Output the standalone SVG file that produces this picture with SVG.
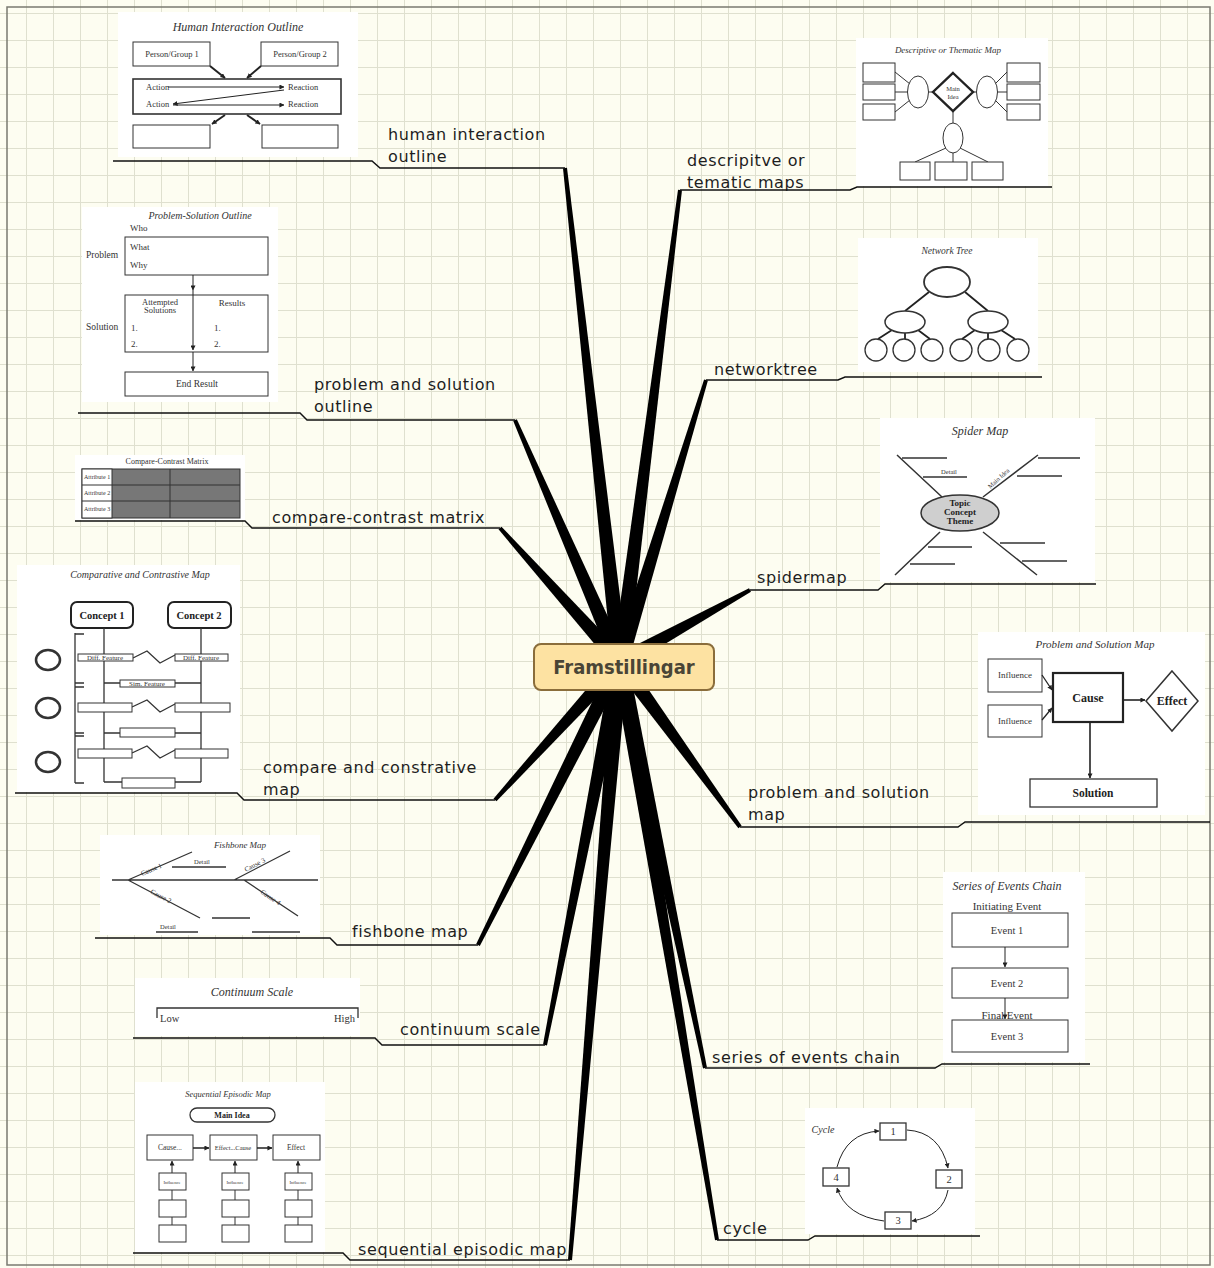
<svg xmlns="http://www.w3.org/2000/svg" width="1214" height="1268" viewBox="0 0 1214 1268">
<defs>
<pattern id="grid" x="26" y="13" width="27" height="27" patternUnits="userSpaceOnUse">
<path d="M0,0.5 H27 M0.5,0 V27" stroke="#dfe0cf" stroke-width="1" fill="none"/>
</pattern>
<marker id="ah" viewBox="0 0 6 6" refX="5.5" refY="3" markerWidth="5" markerHeight="5" markerUnits="userSpaceOnUse" orient="auto">
<path d="M0,0 L6,3 L0,6 z" fill="#222"/>
</marker>
<style>
.lbl{font-family:"DejaVu Sans",sans-serif;font-size:16px;fill:#1e1e1e;letter-spacing:0.6px}
.ul{fill:none;stroke:#111;stroke-width:1.4}
.spoke{fill:#000}
.bg{fill:#fff}
.b{fill:#fff;stroke:#333;stroke-width:1}
.bb{fill:#fff;stroke:#222;stroke-width:2}
.ln{fill:none;stroke:#333;stroke-width:1}
.lnb{fill:none;stroke:#222;stroke-width:1.8}
.ar{fill:none;stroke:#222;stroke-width:1;marker-end:url(#ah)}
.t{font-family:"Liberation Serif",serif;font-size:8px;fill:#333}
.tc{font-family:"Liberation Serif",serif;font-size:8px;fill:#333;text-anchor:middle}
.tb{font-family:"Liberation Serif",serif;font-size:10px;font-weight:bold;fill:#222;text-anchor:middle}
.ti{font-family:"Liberation Serif",serif;font-style:italic;font-size:10px;fill:#333;text-anchor:middle}
</style>
</defs>

<!-- paper -->
<rect x="0" y="0" width="1214" height="1268" fill="#fdfdf1"/>
<rect x="0" y="0" width="1214" height="1268" fill="url(#grid)"/>
<rect x="7" y="7" width="1203" height="1258" fill="none" stroke="#7a7a70" stroke-width="1.5"/>

<!-- branches -->
<g id="connectors">
<polygon class="spoke" points="627.95,661.11 566.99,167.78 563.01,168.22 612.05,662.89"/>
<polygon class="spoke" points="627.34,658.82 516.83,419.2 513.17,420.8 612.66,665.18"/>
<polygon class="spoke" points="625.96,656.66 501.49,526.67 498.51,529.33 614.04,667.34"/>
<polygon class="spoke" points="614.07,656.63 493.52,798.66 496.48,801.34 625.93,667.37"/>
<polygon class="spoke" points="612.85,658.41 476.21,944.1 479.79,945.9 627.15,665.59"/>
<polygon class="spoke" points="612.15,660.46 543.04,1044.62 546.96,1045.38 627.85,663.54"/>
<polygon class="spoke" points="612.03,661.33 568.01,1259.83 571.99,1260.17 627.97,662.67"/>
<polygon class="spoke" points="627.94,663.01 681.98,190.25 678.02,189.75 612.06,660.99"/>
<polygon class="spoke" points="627.65,664.33 707.91,380.58 704.09,379.42 612.35,659.67"/>
<polygon class="spoke" points="623.88,669 750.97,591.75 749.03,588.25 616.12,655"/>
<polygon class="spoke" points="613.53,666.71 738.38,828.18 741.62,825.82 626.47,657.29"/>
<polygon class="spoke" points="612.17,663.64 703.04,1068.41 706.96,1067.59 627.83,660.36"/>
<polygon class="spoke" points="612.11,663.32 715.03,1240.33 718.97,1239.67 627.89,660.68"/>

<polyline class="ul" points="113,161 372,161 380,168 565,168"/>
<polyline class="ul" points="78,413 300,413 307,420 515,420"/>
<polyline class="ul" points="75,521 245,521 252,528 500,528"/>
<polyline class="ul" points="15,793 237,793 244,800 495,800"/>
<polyline class="ul" points="95,938 330,938 337,945 478,945"/>
<polyline class="ul" points="133,1038 375,1038 382,1045 545,1045"/>
<polyline class="ul" points="133,1253 343,1253 350,1260 570,1260"/>
<polyline class="ul" points="680,190 850,190 857,187 1052,187"/>
<polyline class="ul" points="706,380 838,380 845,377 1042,377"/>
<polyline class="ul" points="750,590 878,590 885,584 1096,584"/>
<polyline class="ul" points="740,827 958,827 965,822 1210,822"/>
<polyline class="ul" points="705,1068 935,1068 942,1064 1090,1064"/>
<polyline class="ul" points="717,1240 808,1240 815,1236 980,1236"/>
</g>

<!-- central topic -->
<g id="central">
<rect x="534" y="644" width="180" height="46" rx="7" fill="#fde2a2" stroke="#8a6d3b" stroke-width="2"/>
<text x="624" y="674" text-anchor="middle" font-family="'DejaVu Sans Condensed','DejaVu Sans',sans-serif" font-stretch="condensed" font-weight="bold" font-size="20" fill="#4a4536">Framstillingar</text>
</g>

<!-- human interaction outline -->
<g id="human-interaction">
<text class="lbl" x="388" y="140">human interaction</text>
<text class="lbl" x="388" y="162">outline</text>
<rect class="bg" x="118" y="12" width="240" height="145"/>
<text class="ti" x="238" y="31" style="font-size:12px">Human Interaction Outline</text>
<rect class="b" x="133" y="42" width="77" height="24"/>
<rect class="b" x="261" y="42" width="77" height="24"/>
<text class="tc" x="172" y="57" style="font-size:8.5px">Person/Group 1</text>
<text class="tc" x="300" y="57" style="font-size:8.5px">Person/Group 2</text>
<rect class="b" x="133" y="79" width="208" height="35" style="stroke-width:1.6"/>
<rect class="b" x="133" y="125" width="77" height="23"/>
<rect class="b" x="262" y="125" width="76" height="23"/>
<line class="ar" x1="210" y1="66" x2="225" y2="78" style="stroke-width:2"/>
<line class="ar" x1="261" y1="66" x2="247" y2="78" style="stroke-width:2"/>
<line class="ar" x1="225" y1="115" x2="212" y2="124" style="stroke-width:2"/>
<line class="ar" x1="247" y1="115" x2="260" y2="124" style="stroke-width:2"/>
<text class="t" x="146" y="90" style="font-size:8.5px">Action</text>
<text class="t" x="146" y="107" style="font-size:8.5px">Action</text>
<text class="t" x="288" y="90" style="font-size:8.5px">Reaction</text>
<text class="t" x="288" y="107" style="font-size:8.5px">Reaction</text>
<line class="ar" x1="168" y1="87" x2="284" y2="87"/>
<line class="ar" x1="284" y1="90" x2="173" y2="104"/>
<line class="ar" x1="173" y1="105" x2="284" y2="105"/>
</g>

<!-- descriptive or thematic maps -->
<g id="descriptive-map">
<text class="lbl" x="687" y="166">descripitve or</text>
<text class="lbl" x="687" y="188">tematic maps</text>
<rect class="bg" x="856" y="38" width="192" height="148"/>
<text class="ti" x="948" y="53" style="font-size:9px">Descriptive or Thematic Map</text>
<rect class="b" x="863" y="63" width="32" height="19"/>
<rect class="b" x="863" y="84" width="32" height="16"/>
<rect class="b" x="863" y="104" width="32" height="16"/>
<rect class="b" x="1007" y="63" width="33" height="19"/>
<rect class="b" x="1007" y="84" width="33" height="16"/>
<rect class="b" x="1007" y="104" width="33" height="16"/>
<path class="ln" d="M895,72 L910,84 M895,92 H908 M895,112 L910,100 M928,92 H933 M1007,72 L995,84 M1007,92 H997 M1007,112 L995,100 M973,92 H977 M953,111 V123 M946,148 L915,162 M953,153 V162 M960,148 L988,162"/>
<ellipse class="b" cx="918" cy="92" rx="10.5" ry="16"/>
<ellipse class="b" cx="987" cy="92" rx="10.5" ry="16"/>
<ellipse class="b" cx="953" cy="138" rx="10" ry="15"/>
<polygon class="bb" points="953,73 973,92 953,111 933,92" style="stroke-width:2.4"/>
<text class="tc" x="953" y="91" style="font-size:6.5px">Main</text>
<text class="tc" x="953" y="99" style="font-size:6.5px">Idea</text>
<rect class="b" x="900" y="162" width="30" height="18"/>
<rect class="b" x="935" y="162" width="32" height="18"/>
<rect class="b" x="972" y="162" width="31" height="18"/>
</g>

<!-- problem and solution outline -->
<g id="problem-solution-outline">
<text class="lbl" x="314" y="390">problem and solution</text>
<text class="lbl" x="314" y="412">outline</text>
<rect class="bg" x="82" y="207" width="196" height="195"/>
<text class="ti" x="200" y="219" style="font-size:10px">Problem-Solution Outline</text>
<text class="t" x="130" y="231" style="font-size:9px">Who</text>
<rect class="b" x="125" y="237" width="143" height="38"/>
<text class="t" x="130" y="250" style="font-size:9px">What</text>
<text class="t" x="130" y="268" style="font-size:9px">Why</text>
<text class="t" x="86" y="258" style="font-size:9.5px">Problem</text>
<rect class="b" x="125" y="295" width="143" height="57"/>
<line class="ar" x1="193" y1="275" x2="193" y2="290"/>
<line class="ar" x1="193" y1="290" x2="193" y2="350"/>
<line class="ar" x1="193" y1="352" x2="193" y2="371"/>
<text class="tc" x="160" y="305" style="font-size:8.5px">Attempted</text>
<text class="tc" x="160" y="313" style="font-size:8.5px">Solutions</text>
<text class="tc" x="232" y="306" style="font-size:9px">Results</text>
<text class="t" x="86" y="330" style="font-size:9.5px">Solution</text>
<text class="t" x="131" y="331" style="font-size:9px">1.</text>
<text class="t" x="131" y="347" style="font-size:9px">2.</text>
<text class="t" x="214" y="331" style="font-size:9px">1.</text>
<text class="t" x="214" y="347" style="font-size:9px">2.</text>
<rect class="b" x="125" y="372" width="143" height="24"/>
<text class="tc" x="197" y="387" style="font-size:9.5px">End Result</text>
</g>

<!-- network tree -->
<g id="network-tree">
<text class="lbl" x="714" y="375">networktree</text>
<rect class="bg" x="858" y="238" width="180" height="134"/>
<text class="ti" x="947" y="254" style="font-size:9.5px">Network Tree</text>
<path class="lnb" d="M929,292 L905,311 M965,292 L988,311 M892,330 L878,339 M905,333 V339 M918,330 L930,339 M975,330 L962,339 M988,333 V339 M1001,330 L1015,339"/>
<ellipse class="b" cx="947" cy="282" rx="23" ry="15" style="stroke-width:1.8"/>
<ellipse class="b" cx="905" cy="322" rx="20" ry="11" style="stroke-width:1.5"/>
<ellipse class="b" cx="988" cy="322" rx="20" ry="11" style="stroke-width:1.5"/>
<circle class="b" cx="876" cy="350" r="11" style="stroke-width:1.3"/>
<circle class="b" cx="904" cy="350" r="11" style="stroke-width:1.3"/>
<circle class="b" cx="932" cy="350" r="11" style="stroke-width:1.3"/>
<circle class="b" cx="961" cy="350" r="11" style="stroke-width:1.3"/>
<circle class="b" cx="989" cy="350" r="11" style="stroke-width:1.3"/>
<circle class="b" cx="1018" cy="350" r="11" style="stroke-width:1.3"/>
</g>

<!-- compare-contrast matrix -->
<g id="compare-contrast-matrix">
<text class="lbl" x="272" y="523">compare-contrast matrix</text>
<rect class="bg" x="75" y="455" width="170" height="65"/>
<text class="tc" x="167" y="464" style="font-size:8px">Compare-Contrast Matrix</text>
<rect x="82" y="469" width="158" height="49" fill="#777" stroke="#333"/>
<rect x="82" y="469" width="30" height="49" fill="#fff" stroke="#333"/>
<path class="ln" d="M82,485 H240 M82,501 H240 M170,469 V518"/>
<text class="t" x="84" y="479" style="font-size:6px">Attribute 1</text>
<text class="t" x="84" y="495" style="font-size:6px">Attribute 2</text>
<text class="t" x="84" y="511" style="font-size:6px">Attribute 3</text>
</g>

<!-- spider map -->
<g id="spider-map">
<text class="lbl" x="757" y="583">spidermap</text>
<rect class="bg" x="880" y="418" width="215" height="164"/>
<text class="ti" x="980" y="435" style="font-size:12px">Spider Map</text>
<path class="ln" style="stroke-width:1.5" d="M897,455 L942,497 M1038,455 L983,497 M940,532 L895,575 M983,532 L1037,575 M902,458 H947 M923,477 H967 M1038,458 H1080 M1017,476 H1062 M928,547 H972 M910,564 H955 M1000,543 H1045 M1022,561 H1067"/>
<text class="tc" x="949" y="474" style="font-size:6.5px">Detail</text>
<text class="tc" x="0" y="0" style="font-size:6.5px" transform="translate(1000,480) rotate(-42)">Main Idea</text>
<ellipse cx="960" cy="513" rx="39" ry="18" fill="#cfcfcf" stroke="#333" stroke-width="1.5"/>
<text class="tb" x="960" y="506" style="font-size:9px">Topic</text>
<text class="tb" x="960" y="515" style="font-size:9px">Concept</text>
<text class="tb" x="960" y="524" style="font-size:9px">Theme</text>
</g>

<!-- comparative and contrastive map -->
<g id="compare-contrastive-map">
<text class="lbl" x="263" y="773">compare and constrative</text>
<text class="lbl" x="263" y="795">map</text>
<rect class="bg" x="17" y="565" width="223" height="227"/>
<text class="ti" x="140" y="578" style="font-size:10px">Comparative and Contrastive Map</text>
<rect class="bb" x="71" y="602" width="62" height="26" rx="6"/>
<rect class="bb" x="168" y="602" width="63" height="26" rx="6"/>
<text class="tb" x="102" y="619" style="font-size:10.5px">Concept 1</text>
<text class="tb" x="199" y="619" style="font-size:10.5px">Concept 2</text>
<path class="ln" style="stroke-width:1.3" d="M75,633 V783 M104,628 V782 M201,628 V782 M75,634 H84 M75,683 H84 M75,687 H84 M75,733 H84 M75,736 H84 M75,783 H84 M104,683 H120 M175,683 H201 M104,733 H120 M175,733 H201 M104,782 H122 M175,782 H201 M133,658 L147,651 L160,663 L175,655 M132,707 L147,700 L160,712 L175,704 M132,753 L147,746 L160,758 L175,750"/>
<rect class="b" x="78" y="654" width="55" height="7"/>
<rect class="b" x="175" y="654" width="53" height="7"/>
<text class="tc" x="105" y="660" style="font-size:7px">Diff. Feature</text>
<text class="tc" x="201" y="660" style="font-size:7px">Diff. Feature</text>
<rect class="b" x="120" y="680" width="55" height="7"/>
<text class="tc" x="147" y="686" style="font-size:7px">Sim. Feature</text>
<rect class="b" x="78" y="703" width="54" height="9"/>
<rect class="b" x="175" y="703" width="55" height="9"/>
<rect class="b" x="120" y="728" width="55" height="9"/>
<rect class="b" x="78" y="749" width="54" height="9"/>
<rect class="b" x="175" y="749" width="53" height="9"/>
<rect class="b" x="122" y="778" width="53" height="10"/>
<ellipse class="b" cx="48" cy="660" rx="12" ry="10" style="stroke-width:2.5"/>
<ellipse class="b" cx="48" cy="708" rx="12" ry="10" style="stroke-width:2.5"/>
<ellipse class="b" cx="48" cy="762" rx="12" ry="10" style="stroke-width:2.5"/>
</g>

<!-- problem and solution map -->
<g id="problem-solution-map">
<text class="lbl" x="748" y="798">problem and solution</text>
<text class="lbl" x="748" y="820">map</text>
<rect class="bg" x="978" y="632" width="227" height="183"/>
<text class="ti" x="1095" y="648" style="font-size:11px">Problem and Solution Map</text>
<rect class="b" x="988" y="659" width="54" height="33"/>
<rect class="b" x="988" y="705" width="54" height="32"/>
<text class="tc" x="1015" y="678" style="font-size:9px">Influence</text>
<text class="tc" x="1015" y="724" style="font-size:9px">Influence</text>
<rect class="bb" x="1053" y="673" width="70" height="49" style="stroke-width:2.2"/>
<text class="tb" x="1088" y="702" style="font-size:12px">Cause</text>
<polygon class="b" points="1172,671 1198,701 1172,731 1146,701" style="stroke-width:1.5"/>
<text class="tb" x="1172" y="705" style="font-size:12px">Effect</text>
<line class="ar" x1="1123" y1="700" x2="1145" y2="700" style="stroke-width:1.6"/>
<line class="ar" x1="1042" y1="675" x2="1052" y2="690" style="stroke-width:1.3"/>
<line class="ar" x1="1042" y1="720" x2="1052" y2="708" style="stroke-width:1.3"/>
<line class="ar" x1="1090" y1="722" x2="1090" y2="778" style="stroke-width:1.6"/>
<rect class="b" x="1030" y="779" width="127" height="28" style="stroke-width:1.3"/>
<text class="tb" x="1093" y="797" style="font-size:11.5px">Solution</text>
</g>

<!-- fishbone map -->
<g id="fishbone-map">
<text class="lbl" x="352" y="937">fishbone map</text>
<rect class="bg" x="100" y="835" width="220" height="100"/>
<text class="ti" x="240" y="848" style="font-size:9px">Fishbone Map</text>
<path class="ln" style="stroke-width:1.3" d="M112,880 H318 M128,880 L192,852 M172,867 H226 M128,880 L200,918 M156,932 H198 M234,880 L290,851 M244,880 L298,916 M212,918 H250 M252,932 H300"/>
<text class="t" x="0" y="0" style="font-size:7px" transform="translate(142,876) rotate(-23)">Cause 1</text>
<text class="t" x="0" y="0" style="font-size:7px" transform="translate(150,893) rotate(28)">Cause 2</text>
<text class="t" x="0" y="0" style="font-size:7px" transform="translate(246,872) rotate(-28)">Cause 3</text>
<text class="t" x="0" y="0" style="font-size:7px" transform="translate(260,893) rotate(34)">Cause 4</text>
<text class="t" x="194" y="864" style="font-size:6.5px">Detail</text>
<text class="t" x="160" y="929" style="font-size:6.5px">Detail</text>
</g>

<!-- continuum scale -->
<g id="continuum-scale">
<text class="lbl" x="400" y="1035">continuum scale</text>
<rect class="bg" x="135" y="978" width="225" height="58"/>
<text class="ti" x="252" y="996" style="font-size:12px">Continuum Scale</text>
<path class="ln" style="stroke-width:1.3" d="M157,1018 V1008 H358 V1018"/>
<text class="t" x="160" y="1022" style="font-size:10.5px">Low</text>
<text class="t" x="334" y="1022" style="font-size:10.5px">High</text>
</g>

<!-- series of events chain -->
<g id="series-events">
<text class="lbl" x="712" y="1063">series of events chain</text>
<rect class="bg" x="943" y="872" width="142" height="190"/>
<text class="ti" x="1007" y="890" style="font-size:12px">Series of Events Chain</text>
<text class="tc" x="1007" y="910" style="font-size:11px">Initiating Event</text>
<rect class="b" x="952" y="913" width="116" height="34"/>
<text class="tc" x="1007" y="934" style="font-size:10.5px">Event 1</text>
<line class="ar" x1="1005" y1="947" x2="1005" y2="967"/>
<rect class="b" x="952" y="968" width="116" height="30"/>
<text class="tc" x="1007" y="987" style="font-size:10.5px">Event 2</text>
<line class="ar" x1="1005" y1="998" x2="1005" y2="1019"/>
<text class="tc" x="1007" y="1019" style="font-size:11px">Final Event</text>
<rect class="b" x="952" y="1020" width="116" height="32"/>
<text class="tc" x="1007" y="1040" style="font-size:10.5px">Event 3</text>
</g>

<!-- cycle -->
<g id="cycle">
<text class="lbl" x="723" y="1234">cycle</text>
<rect class="bg" x="805" y="1108" width="170" height="126"/>
<text class="ti" x="823" y="1133" style="font-size:10px">Cycle</text>
<path class="ar" d="M907,1130 Q940,1132 948,1168"/>
<path class="ar" d="M948,1190 Q943,1216 912,1221"/>
<path class="ar" d="M884,1221 Q846,1216 837,1188"/>
<path class="ar" d="M837,1167 Q846,1133 879,1131"/>
<rect class="b" x="880" y="1123" width="26" height="17" style="stroke-width:1.3"/>
<rect class="b" x="936" y="1170" width="26" height="18" style="stroke-width:1.3"/>
<rect class="b" x="885" y="1212" width="26" height="17" style="stroke-width:1.3"/>
<rect class="b" x="823" y="1168" width="26" height="18" style="stroke-width:1.3"/>
<text class="tc" x="893" y="1135" style="font-size:10.5px">1</text>
<text class="tc" x="949" y="1183" style="font-size:10.5px">2</text>
<text class="tc" x="898" y="1224" style="font-size:10.5px">3</text>
<text class="tc" x="836" y="1181" style="font-size:10.5px">4</text>
</g>

<!-- sequential episodic map -->
<g id="sequential-episodic">
<text class="lbl" x="358" y="1255">sequential episodic map</text>
<rect class="bg" x="135" y="1082" width="190" height="170"/>
<text class="ti" x="228" y="1097" style="font-size:8.5px">Sequential Episodic Map</text>
<rect class="b" x="190" y="1108" width="85" height="14" rx="7" style="stroke-width:1.3"/>
<text class="tb" x="232" y="1118" style="font-size:8px">Main Idea</text>
<rect class="b" x="147" y="1135" width="46" height="25"/>
<rect class="b" x="210" y="1135" width="47" height="25"/>
<rect class="b" x="273" y="1135" width="47" height="25"/>
<text class="tc" x="170" y="1150" style="font-size:7.5px">Cause...</text>
<text class="tc" x="233" y="1150" style="font-size:6.5px">Effect...Cause</text>
<text class="tc" x="296" y="1150" style="font-size:7.5px">Effect</text>
<line class="ar" x1="193" y1="1148" x2="209" y2="1148" style="stroke-width:1.5"/>
<line class="ar" x1="257" y1="1148" x2="272" y2="1148" style="stroke-width:1.5"/>
<path class="ln" d="M172,1190 V1200 M172,1217 V1225 M235,1190 V1200 M235,1217 V1225 M298,1190 V1200 M298,1217 V1225"/>
<line class="ar" x1="172" y1="1173" x2="172" y2="1161"/>
<line class="ar" x1="235" y1="1173" x2="235" y2="1161"/>
<line class="ar" x1="298" y1="1173" x2="298" y2="1161"/>
<rect class="b" x="159" y="1173" width="27" height="17"/>
<rect class="b" x="222" y="1173" width="27" height="17"/>
<rect class="b" x="285" y="1173" width="27" height="17"/>
<text class="tc" x="172" y="1183.5" style="font-size:4.5px">Influence</text>
<text class="tc" x="235" y="1183.5" style="font-size:4.5px">Influence</text>
<text class="tc" x="298" y="1183.5" style="font-size:4.5px">Influence</text>
<rect class="b" x="159" y="1200" width="27" height="17"/>
<rect class="b" x="222" y="1200" width="27" height="17"/>
<rect class="b" x="285" y="1200" width="27" height="17"/>
<rect class="b" x="159" y="1225" width="27" height="17"/>
<rect class="b" x="222" y="1225" width="27" height="17"/>
<rect class="b" x="285" y="1225" width="27" height="17"/>
</g>
</svg>
